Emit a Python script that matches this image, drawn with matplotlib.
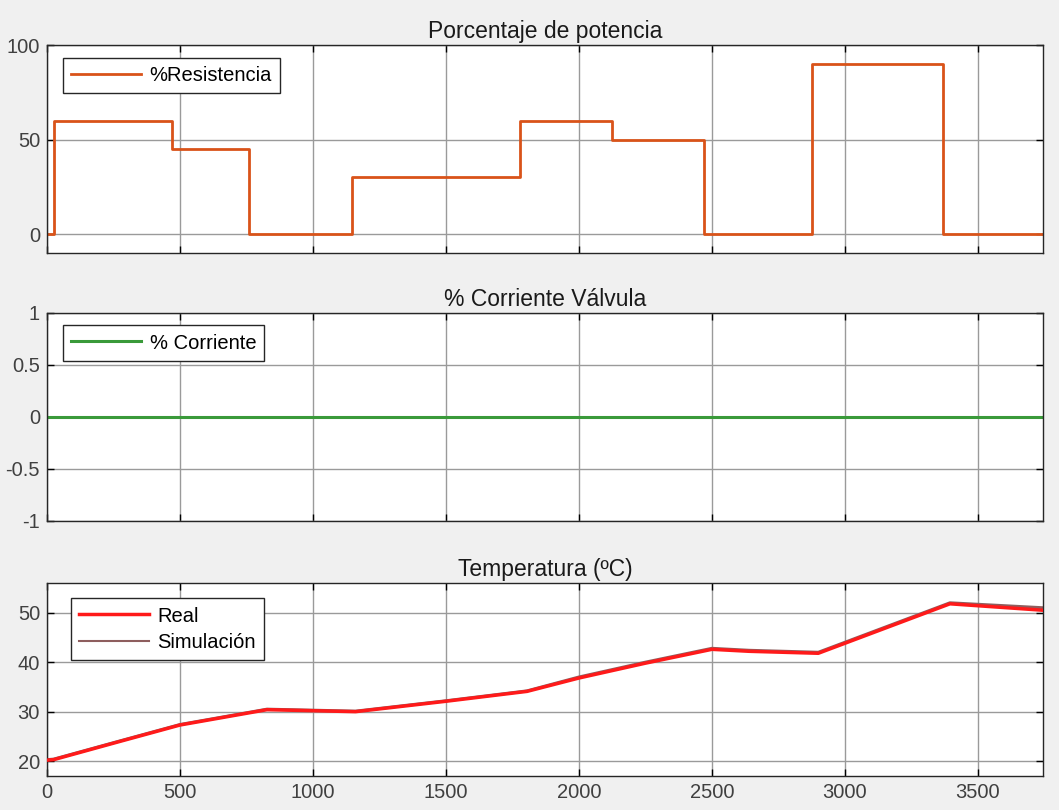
import numpy as np
import matplotlib
matplotlib.use("Agg")
import matplotlib.pyplot as plt
from matplotlib.lines import Line2D

plt.rcParams['font.family'] = ['Liberation Sans', 'DejaVu Sans']

# potencia de la resistencia (escalones)
t_res = [0, 25, 470, 760, 1145, 1778, 2125, 2471, 2878, 3368, 3745]
p_res = [0, 60, 45, 0, 30, 60, 50, 0, 90, 0, 0]

# corriente valvula
t_val = [0, 3745]
i_val = [0, 0]

# temperatura
t_temp = [0, 25, 275, 500, 827, 1160, 1500, 1805, 2000, 2250, 2500, 2640, 2900, 3395, 3745]
temp_real = [20.2, 20.3, 24.0, 27.3, 30.4, 30.0, 32.1, 34.1, 36.8, 39.8, 42.6, 42.2, 41.8, 51.8, 50.5]
temp_sim = [20.3, 20.4, 24.1, 27.4, 30.5, 30.1, 32.2, 34.2, 37.0, 40.0, 42.8, 42.4, 42.0, 52.0, 51.0]

xticks = [0, 500, 1000, 1500, 2000, 2500, 3000, 3500]
xmax = 3745

fig = plt.figure(figsize=(10.59, 8.10), dpi=100, facecolor='#F0F0F0')
ax1 = fig.add_axes([0.0444, 0.6877, 0.9405, 0.2567])
ax2 = fig.add_axes([0.0444, 0.3568, 0.9405, 0.2568])
ax3 = fig.add_axes([0.0444, 0.0420, 0.9405, 0.2382])

tick_fs = 14.5
title_fs = 16.5


def style(ax, title):
    ax.set_xlim(0, xmax)
    ax.set_xticks(xticks)
    ax.grid(True, color='#9a9a9a', lw=1)
    ax.set_axisbelow(True)
    ax.tick_params(direction='in', top=True, right=True, length=5, width=1,
                   labelsize=tick_fs, labelcolor='#404040', pad=5)
    for s in ax.spines.values():
        s.set_color('#262626')
        s.set_linewidth(1)
    ax.set_title(title, fontsize=title_fs, color='#1a1a1a', pad=5)


ax1.step(t_res, p_res, where='post', color='#D95319', lw=2, label='%Resistencia')
style(ax1, 'Porcentaje de potencia')
ax1.set_ylim(-10, 100)
ax1.set_yticks([0, 50, 100])
ax1.set_xticklabels([])

ax2.plot(t_val, i_val, color='#3A9A3A', lw=2.2, label='% Corriente')
style(ax2, '% Corriente Válvula')
ax2.set_ylim(-1, 1)
ax2.set_yticks([-1, -0.5, 0, 0.5, 1])
ax2.set_yticklabels(['-1', '-0.5', '0', '0.5', '1'])
ax2.set_xticklabels([])

ax3.plot(t_temp, temp_sim, color='#8E5E5E', lw=2.2, zorder=2)
real_line, = ax3.plot(t_temp, temp_real, color='#FF1A1A', lw=2.5, zorder=3)
style(ax3, 'Temperatura (ºC)')
ax3.set_ylim(17, 56)
ax3.set_yticks([20, 30, 40, 50])
ax3.set_xticklabels([str(v) for v in xticks])

sim_handle = Line2D([], [], color='#8E5E5E', lw=1.5)

leg_kw = dict(fontsize=tick_fs, frameon=True, fancybox=False, edgecolor='#262626',
              framealpha=1, handlelength=3.5, handletextpad=0.4, borderpad=0.4,
              labelspacing=0.35, borderaxespad=0)
for ax in (ax1, ax2):
    lg = ax.legend(loc='upper left', bbox_to_anchor=(0.016, 0.94), **leg_kw)
    lg.get_frame().set_linewidth(1)
lg = ax3.legend([real_line, sim_handle], ['Real', 'Simulación'], loc='upper left',
                bbox_to_anchor=(0.024, 0.92), **leg_kw)
lg.get_frame().set_linewidth(1)

fig.savefig('out.png', dpi=100, facecolor=fig.get_facecolor())
